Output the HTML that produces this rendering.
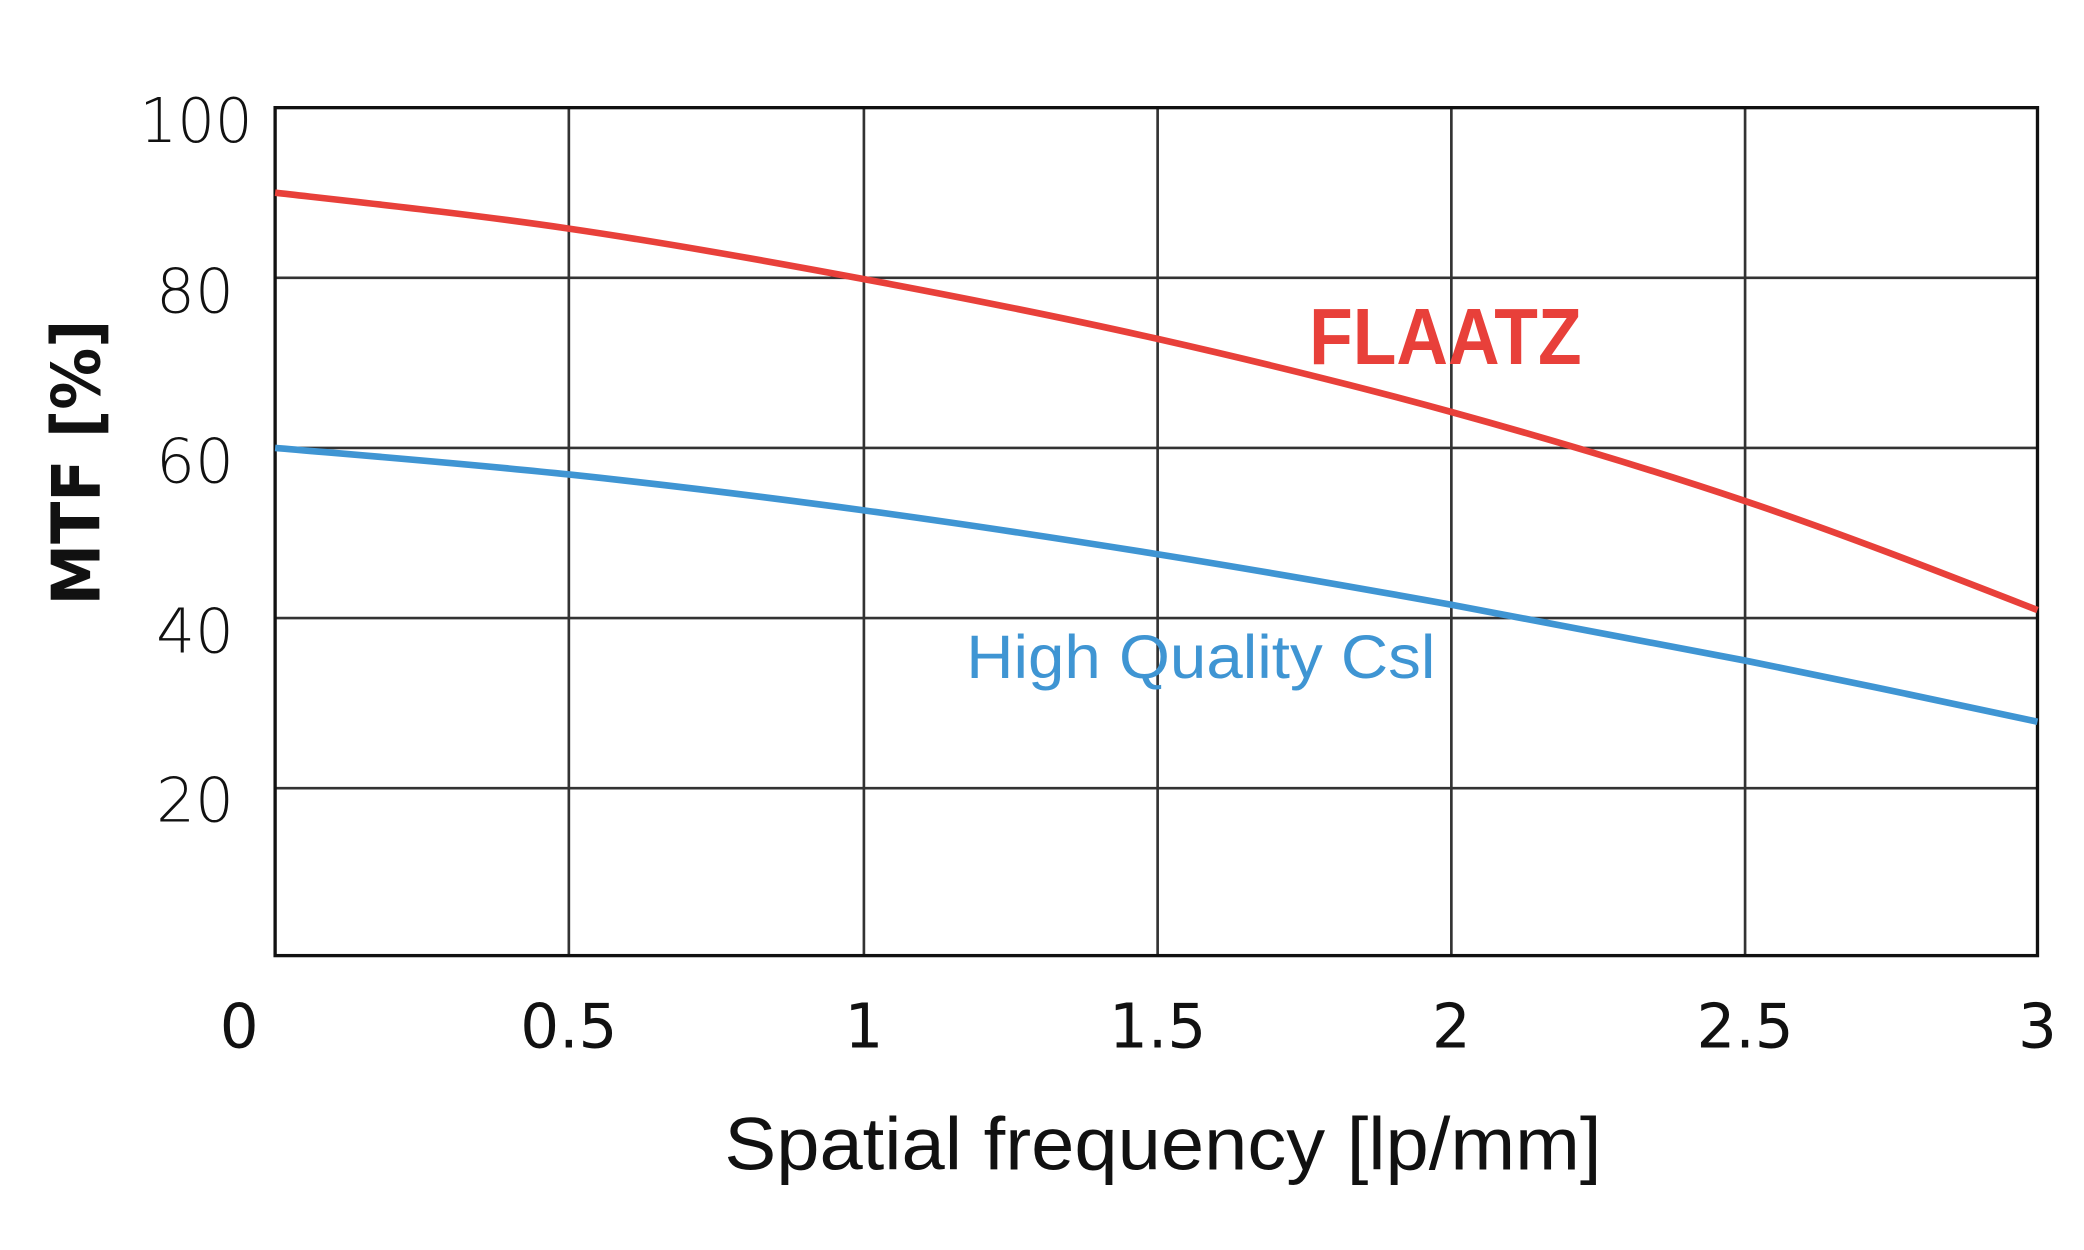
<!DOCTYPE html>
<html><head><style>html,body{margin:0;padding:0;background:#fff}svg{display:block}</style></head>
<body>
<svg width="2084" height="1250" viewBox="0 0 1568 940.5" preserveAspectRatio="none" xmlns="http://www.w3.org/2000/svg">
<rect width="1568" height="941" fill="#fff"/>
<g stroke="#333" stroke-width="2">
<line x1="428" y1="81" x2="428" y2="719"/><line x1="650" y1="81" x2="650" y2="719"/>
<line x1="871" y1="81" x2="871" y2="719"/><line x1="1092" y1="81" x2="1092" y2="719"/>
<line x1="1313" y1="81" x2="1313" y2="719"/>
<line x1="207" y1="209" x2="1533" y2="209"/><line x1="207" y1="337" x2="1533" y2="337"/>
<line x1="207" y1="465" x2="1533" y2="465"/><line x1="207" y1="593" x2="1533" y2="593"/>
</g>
<rect x="207" y="81" width="1326" height="638" fill="none" stroke="#111" stroke-width="2.5"/>
<path d="M207,145 C280.7,153.3 354.3,161.2 428,172 C501.7,182.8 576.3,196.2 650,210 C723.7,223.8 797.3,238.3 871,255 C944.7,271.7 1018.3,289.7 1092,310 C1165.7,330.3 1239.3,352.2 1313,377 C1386.7,401.8 1459.3,430.3 1533,459" fill="none" stroke="#e8403a" stroke-width="5"/>
<path d="M207,337 C280.7,343.3 354.3,349.2 428,357 C501.7,364.8 576.3,374 650,384 C723.7,394 797.3,405.2 871,417 C944.7,428.8 1018.3,441.7 1092,455 C1165.7,468.3 1239.3,482.3 1313,497 C1386.7,511.7 1459.3,527.3 1533,543" fill="none" stroke="#3f95d3" stroke-width="5"/>
<g font-family="'DejaVu Sans','Liberation Sans',sans-serif" font-size="46" fill="#111" text-anchor="end" font-weight="300">
<text x="190" y="107" textLength="85" lengthAdjust="spacingAndGlyphs">100</text><text x="176" y="235">80</text><text x="176" y="363">60</text>
<text x="176" y="491">40</text><text x="176" y="618">20</text>
</g>
<g font-family="'DejaVu Sans','Liberation Sans',sans-serif" font-size="46" fill="#111" text-anchor="middle">
<text x="180" y="788">0</text><text x="428" y="788">0.5</text><text x="650" y="788">1</text>
<text x="871" y="788">1.5</text><text x="1092" y="788">2</text><text x="1313" y="788">2.5</text><text x="1533" y="788">3</text>
</g>
<text x="545" y="880" font-family="'Liberation Sans',sans-serif" font-size="56" fill="#111" textLength="660" lengthAdjust="spacingAndGlyphs">Spatial frequency [lp/mm]</text>
<text transform="translate(75,348) rotate(-90)" text-anchor="middle" font-family="'DejaVu Sans','Liberation Sans',sans-serif" font-weight="bold" font-size="50" fill="#111" textLength="215" lengthAdjust="spacingAndGlyphs">MTF [%]</text>
<text x="985" y="274" font-family="'Liberation Sans',sans-serif" font-weight="bold" font-size="60" fill="#e8403a" textLength="205" lengthAdjust="spacingAndGlyphs">FLAATZ</text>
<text x="727" y="510" font-family="'Liberation Sans',sans-serif" font-size="46" fill="#3f95d3" textLength="353" lengthAdjust="spacingAndGlyphs">High Quality Csl</text>
</svg>
</body></html>
